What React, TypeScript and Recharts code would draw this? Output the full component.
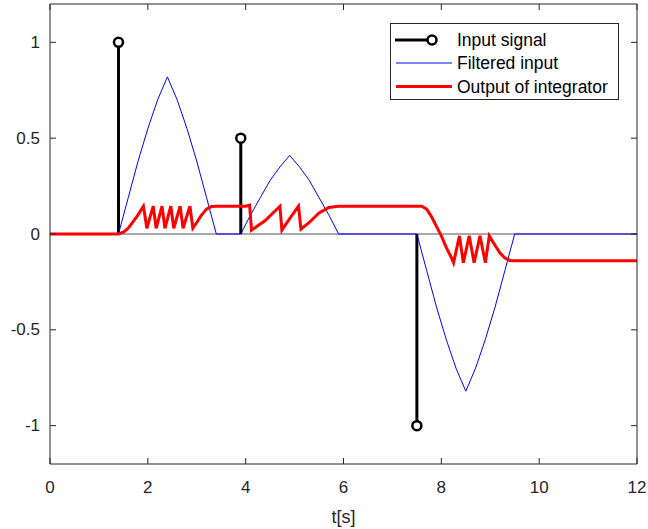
import { LineChart, Line, XAxis, YAxis, ReferenceLine, Legend, Label } from "recharts"

const AX = "#262626"
const FONT = "'Liberation Sans', Arial, sans-serif"

const xTicks = [0, 2, 4, 6, 8, 10, 12]
const yTicks = [-1, -0.5, 0, 0.5, 1]

// stem plot: input impulses
const stemTimes = [1.4, 3.9, 7.5]
const stemValues = [1, 0.5, -1]

// filtered input (blue)
const filteredTimes = [
  0, 1.4, 1.6, 1.8, 2.0, 2.2, 2.4, 2.6, 2.8, 3.0, 3.2, 3.4,
  3.9, 4.1, 4.3, 4.5, 4.7, 4.9, 5.1, 5.3, 5.5, 5.7, 5.9,
  7.5, 7.7, 7.9, 8.1, 8.3, 8.5, 8.7, 8.9, 9.1, 9.3, 9.5, 12,
]
const filteredValues = [
  0, 0, 0.19, 0.38, 0.55, 0.7, 0.82, 0.7, 0.55, 0.38, 0.19, 0,
  0, 0.1, 0.19, 0.28, 0.35, 0.41, 0.35, 0.28, 0.19, 0.1, 0,
  0, -0.19, -0.38, -0.55, -0.7, -0.82, -0.7, -0.55, -0.38, -0.19, 0, 0,
]

// output of integrator (red)
const outputTimes = [
  0, 1.4, 1.5, 1.6, 1.7, 1.8, 1.91,
  1.98, 2.11, 2.17, 2.29, 2.35, 2.47, 2.53, 2.66, 2.72, 2.86, 2.92,
  3.0, 3.1, 3.2, 3.3, 3.4, 4.0, 4.08, 4.12,
  4.4, 4.7, 4.74, 4.9, 5.08, 5.13, 5.3, 5.5, 5.7, 5.9,
  7.6, 7.7, 7.8, 7.9, 8.0, 8.1, 8.2, 8.25,
  8.37, 8.45, 8.57, 8.67, 8.79, 8.9, 8.98,
  9.1, 9.2, 9.3, 9.4, 9.5, 12,
]
const outputValues = [
  0, 0, 0.01, 0.03, 0.065, 0.1, 0.145,
  0.03, 0.145, 0.03, 0.145, 0.03, 0.145, 0.03, 0.145, 0.03, 0.145, 0.03,
  0.06, 0.1, 0.13, 0.143, 0.145, 0.145, 0.15, 0.02,
  0.07, 0.145, 0.02, 0.08, 0.145, 0.025, 0.06, 0.11, 0.138, 0.145,
  0.145, 0.13, 0.09, 0.04, -0.01, -0.07, -0.12, -0.15,
  -0.01, -0.15, -0.01, -0.15, -0.01, -0.15, -0.01,
  -0.06, -0.1, -0.125, -0.138, -0.14, -0.14,
]

const legendNames = ["Input signal", "Filtered input", "Output of integrator"]

const filteredData = filteredTimes.map((t, i) => ({ t, v: filteredValues[i] }))
const outputData = outputTimes.map((t, i) => ({ t, v: outputValues[i] }))
const stemData = stemTimes.map((t, i) => [
  { t, v: 0 },
  { t, v: stemValues[i] },
])

function LeftTick(props: any) {
  const { x, y, payload } = props
  return (
    <g>
      <line x1={x} x2={x + 6} y1={y} y2={y} stroke={AX} />
      <text x={x - 10} y={y} textAnchor="end" dominantBaseline="central" fill={AX} fontSize={17}>
        {payload.value}
      </text>
    </g>
  )
}

function RightTick(props: any) {
  const { x, y } = props
  return <line x1={x} x2={x - 6} y1={y} y2={y} stroke={AX} />
}

function BottomTick(props: any) {
  const { x, y, payload } = props
  return (
    <g>
      <line x1={x} x2={x} y1={y} y2={y - 6} stroke={AX} />
      <text x={x} y={y + 23} textAnchor="middle" dominantBaseline="central" fill={AX} fontSize={17}>
        {payload.value}
      </text>
    </g>
  )
}

function TopTick(props: any) {
  const { x, y } = props
  return <line x1={x} x2={x} y1={y} y2={y + 6} stroke={AX} />
}

function StemDot(props: any) {
  const { cx, cy, index } = props
  if (index !== 1) return <g key={index} />
  return <circle key={index} cx={cx} cy={cy} r={4.5} fill="#fff" stroke="#000" strokeWidth={2.5} />
}

function LegendBox() {
  const rows = [17, 40, 63.5]
  return (
    <svg width={229} height={77} style={{ display: "block" }}>
      <rect x={0.5} y={0.5} width={228} height={76} fill="#fff" stroke={AX} />
      <line x1={5} x2={42} y1={rows[0]} y2={rows[0]} stroke="#000" strokeWidth={3} />
      <circle cx={42} cy={rows[0]} r={4.5} fill="#fff" stroke="#000" strokeWidth={2.5} />
      <line x1={6} x2={62} y1={rows[1]} y2={rows[1]} stroke="#0000ff" strokeWidth={1} />
      <line x1={6} x2={62} y1={rows[2]} y2={rows[2]} stroke="#ff0000" strokeWidth={3} />
      {legendNames.map((name, i) => (
        <text key={name} x={67} y={rows[i]} dominantBaseline="central" fill="#000" fontSize={17.5}>
          {name}
        </text>
      ))}
    </svg>
  )
}

export default function App() {
  return (
    <div style={{ position: "absolute", left: 0, top: 0, background: "#fff" }}>
      <LineChart
        width={648}
        height={529}
        margin={{ top: 3, right: 10, bottom: 5, left: 0 }}
        style={{ fontFamily: FONT }}
      >
        <XAxis
          dataKey="t"
          type="number"
          domain={[0, 12]}
          ticks={xTicks}
          allowDataOverflow
          height={60}
          stroke={AX}
          tickSize={0}
          tickMargin={0}
          tick={<BottomTick />}
        >
          <Label value="t[s]" position="insideBottom" offset={1} fill={AX} fontSize={18} />
        </XAxis>
        <XAxis
          xAxisId="top"
          dataKey="t"
          orientation="top"
          type="number"
          domain={[0, 12]}
          ticks={xTicks}
          allowDataOverflow
          height={1}
          stroke={AX}
          tickSize={0}
          tickMargin={0}
          tick={<TopTick />}
        />
        <YAxis
          type="number"
          domain={[-1.2, 1.2]}
          ticks={yTicks}
          allowDataOverflow
          width={50}
          stroke={AX}
          tickSize={0}
          tickMargin={0}
          tick={<LeftTick />}
        />
        <YAxis
          yAxisId="right"
          orientation="right"
          type="number"
          domain={[-1.2, 1.2]}
          ticks={yTicks}
          allowDataOverflow
          width={1}
          stroke={AX}
          tickSize={0}
          tickMargin={0}
          tick={<RightTick />}
        />
        <ReferenceLine y={0} stroke="#555" strokeWidth={1} />
        {/* box frame: invisible series so the top and right axes get drawn */}
        <Line
          xAxisId="top"
          yAxisId="right"
          data={filteredData}
          dataKey="v"
          stroke="none"
          dot={false}
          activeDot={false}
          isAnimationActive={false}
          legendType="none"
        />
        {stemData.map((d, i) => (
          <Line
            key={"stem" + i}
            data={d}
            dataKey="v"
            type="linear"
            stroke="#000"
            strokeWidth={3}
            dot={<StemDot />}
            activeDot={false}
            isAnimationActive={false}
            legendType="none"
          />
        ))}
        <Line
          data={filteredData}
          dataKey="v"
          type="linear"
          stroke="#0000ff"
          strokeWidth={1}
          dot={false}
          activeDot={false}
          isAnimationActive={false}
        />
        <Line
          data={outputData}
          dataKey="v"
          type="linear"
          stroke="#ff0000"
          strokeWidth={3}
          dot={false}
          activeDot={false}
          isAnimationActive={false}
        />
        <Legend
          layout="horizontal"
          verticalAlign="middle"
          align="center"
          content={<LegendBox />}
          wrapperStyle={{ left: 390, top: 23, width: 229, height: 77 }}
        />
      </LineChart>
    </div>
  )
}
